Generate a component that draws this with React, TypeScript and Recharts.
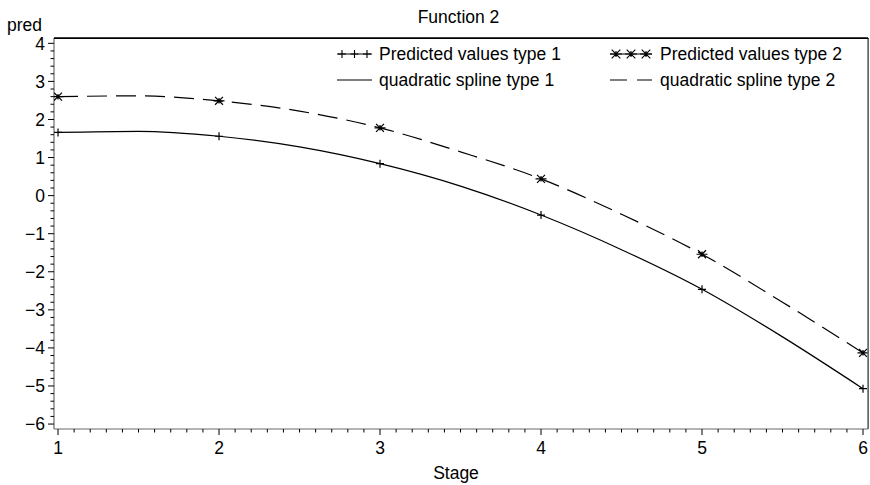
import React from 'react';
import { ComposedChart, Line, Scatter, XAxis, YAxis, Legend, Label } from 'recharts';

// ---- data ----
const stages = [1, 2, 3, 4, 5, 6];
const predType1 = [1.66, 1.56, 0.84, -0.51, -2.46, -5.07];
const predType2 = [2.6, 2.49, 1.78, 0.44, -1.54, -4.13];
const splineStages = [1, 1.5, 2, 2.5, 3, 3.5, 4, 4.5, 5, 5.5, 6];
const splineType1 = [1.66, 1.69, 1.56, 1.28, 0.84, 0.25, -0.51, -1.42, -2.46, -3.71, -5.07];
const splineType2 = [2.6, 2.62, 2.49, 2.22, 1.78, 1.15, 0.44, -0.49, -1.54, -2.8, -4.13];

const xMajorTicks = [1, 2, 3, 4, 5, 6];
const xTickLabels = ['1', '2', '3', '4', '5', '6'];
const yMajorTicks = [-6, -5, -4, -3, -2, -1, 0, 1, 2, 3, 4];
const yTickLabels = ['\u22126', '\u22125', '\u22124', '\u22123', '\u22122', '\u22121', '0', '1', '2', '3', '4'];

const legendLabels = ['Predicted values type 1', 'quadratic spline type 1', 'Predicted values type 2', 'quadratic spline type 2'];
const titleText = 'Function 2';
const xTitle = 'Stage';
const yTitle = 'pred';

const xDomain: [number, number] = [0.975, 6.031];
const yDomain: [number, number] = [-6.13, 4.14];

// ---- derived tables ----
const pts1 = stages.map((x, i) => ({ x, y: predType1[i] }));
const pts2 = stages.map((x, i) => ({ x, y: predType2[i] }));
const spl1 = splineStages.map((x, i) => ({ x, y: splineType1[i] }));
const spl2 = splineStages.map((x, i) => ({ x, y: splineType2[i] }));

const xTicks: number[] = [];
xMajorTicks.forEach((m, i) => {
  if (i < xMajorTicks.length - 1) {
    for (let k = 0; k < 10; k++) xTicks.push(Math.round((m + k / 10) * 100) / 100);
  } else xTicks.push(m);
});
const yTicks: number[] = [];
yMajorTicks.forEach((m, i) => {
  if (i < yMajorTicks.length - 1) {
    for (let k = 0; k < 5; k++) yTicks.push(Math.round((m + k / 5) * 100) / 100);
  } else yTicks.push(m);
});

const FONT = '"Liberation Sans", Arial, Helvetica, sans-serif';
const FS = 17.5;
const AXIS_GRAY = '#6a6a6a';
const CHART_W = 870;
const CHART_H = 485;
const MARGIN = { top: 38, right: 2, bottom: 0, left: 0 };
const X_AXIS_H = 56;
const Y_AXIS_W = 54;

const isMajor = (v: number) => Math.abs(v - Math.round(v)) < 1e-6;

const XTick = (props: any) => {
  const { x, y, payload } = props;
  const v = payload.value as number;
  const major = isMajor(v);
  const idx = xMajorTicks.indexOf(Math.round(v));
  return (
    <g>
      <line x1={x} x2={x} y1={y} y2={y + (major ? 6 : 3.5)} stroke="#000" strokeWidth={1} />
      {major && (
        <text x={x} y={y + 25} textAnchor="middle" fontFamily={FONT} fontSize={FS} fill="#000">
          {xTickLabels[idx]}
        </text>
      )}
    </g>
  );
};

const YTick = (props: any) => {
  const { x, y, payload } = props;
  const v = payload.value as number;
  const major = isMajor(v);
  const idx = yMajorTicks.indexOf(Math.round(v));
  return (
    <g>
      <line x1={x} x2={x - (major ? 6 : 3.5)} y1={y} y2={y} stroke="#000" strokeWidth={1} />
      {major && (
        <text x={x - 9} y={y + 6.3} textAnchor="end" fontFamily={FONT} fontSize={FS} fill="#000">
          {yTickLabels[idx]}
        </text>
      )}
    </g>
  );
};

const plusPath = (cx: number, cy: number, r: number) =>
  `M${cx - r},${cy}L${cx + r},${cy}M${cx},${cy - r}L${cx},${cy + r}`;
const starPath = (cx: number, cy: number, r: number) => {
  const d = r * 0.72;
  return `M${cx - r},${cy}L${cx + r},${cy}M${cx - d},${cy - d}L${cx + d},${cy + d}M${cx - d},${cy + d}L${cx + d},${cy - d}M${cx},${cy - r * 0.5}L${cx},${cy + r * 0.5}`;
};

const PlusShape = (props: any) => {
  const { cx, cy } = props;
  if (cx == null || cy == null) return null;
  return <path d={plusPath(cx, cy, 4)} stroke="#000" strokeWidth={1.2} fill="none" />;
};
const StarShape = (props: any) => {
  const { cx, cy } = props;
  if (cx == null || cy == null) return null;
  return <path d={starPath(cx, cy, 5.5)} stroke="#000" strokeWidth={1.2} fill="none" />;
};

const plotL = MARGIN.left + Y_AXIS_W;
const plotT = MARGIN.top;
const plotR = CHART_W - MARGIN.right;
const plotB = CHART_H - MARGIN.bottom - X_AXIS_H;

const renderLegend = () => {
  const r1 = 54;
  const r2 = 80;
  const c1a = 337, c1b = 372, t1 = 379;
  const c2a = 610, c2b = 652, t2 = 660;
  return (
    <svg width={CHART_W} height={CHART_H} style={{ position: 'absolute', left: 0, top: 0, overflow: 'visible' }}>
      <path d={`M${plotL},${plotT}H${plotR}`} stroke="#000" strokeWidth={1.5} fill="none" />
      <path d={`M${plotR},${plotT}V${plotB}`} stroke={AXIS_GRAY} strokeWidth={1.5} fill="none" />
      <text x={458.5} y={22.5} textAnchor="middle" fontFamily={FONT} fontSize={FS} fill="#000">{titleText}</text>
      <line x1={c1a} x2={c1b} y1={r1} y2={r1} stroke="#000" strokeWidth={1} />
      <path d={plusPath(c1a + 5, r1, 4) + plusPath((c1a + c1b) / 2, r1, 4) + plusPath(c1b - 5, r1, 4)} stroke="#000" strokeWidth={1.1} fill="none" />
      <text x={t1} y={r1 + 6.3} fontFamily={FONT} fontSize={FS} fill="#000">{legendLabels[0]}</text>
      <line x1={c1a} x2={c1b} y1={r2} y2={r2} stroke="#000" strokeWidth={1.2} />
      <text x={t1} y={r2 + 6.3} fontFamily={FONT} fontSize={FS} fill="#000">{legendLabels[1]}</text>

      <line x1={c2a} x2={c2b} y1={r1} y2={r1} stroke="#000" strokeWidth={1} />
      <path d={starPath(c2a + 6, r1, 6) + starPath((c2a + c2b) / 2, r1, 6) + starPath(c2b - 6, r1, 6)} stroke="#000" strokeWidth={1.1} fill="none" />
      <text x={t2} y={r1 + 6.3} fontFamily={FONT} fontSize={FS} fill="#000">{legendLabels[2]}</text>
      <line x1={c2a} x2={c2b} y1={r2} y2={r2} stroke="#000" strokeWidth={1.2} strokeDasharray="17 10" />
      <text x={t2} y={r2 + 6.3} fontFamily={FONT} fontSize={FS} fill="#000">{legendLabels[3]}</text>
    </svg>
  );
};

export default function App() {
  return (
    <div style={{ position: 'absolute', left: 0, top: 0, width: CHART_W, height: CHART_H, background: '#fff' }}>
      <ComposedChart width={CHART_W} height={CHART_H} margin={MARGIN}>
        <XAxis
          dataKey="x"
          type="number"
          domain={xDomain}
          allowDataOverflow
          ticks={xTicks}
          interval={0}
          tick={<XTick />}
          tickLine={false}
          tickSize={0}
          tickMargin={0}
          height={X_AXIS_H}
          axisLine={{ stroke: AXIS_GRAY, strokeWidth: 1.2 }}
        >
          <Label
            content={() => (
              <text x={456} y={479} textAnchor="middle" fontFamily={FONT} fontSize={FS} fill="#000">
                {xTitle}
              </text>
            )}
          />
        </XAxis>
        <YAxis
          type="number"
          domain={yDomain}
          allowDataOverflow
          ticks={yTicks}
          interval={0}
          tick={<YTick />}
          tickLine={false}
          tickSize={0}
          tickMargin={0}
          width={Y_AXIS_W}
          axisLine={{ stroke: AXIS_GRAY, strokeWidth: 1.2 }}
        >
          <Label
            content={() => (
              <text x={7} y={30.5} textAnchor="start" fontFamily={FONT} fontSize={FS} fill="#000">
                {yTitle}
              </text>
            )}
          />
        </YAxis>
        <Legend
          layout="horizontal"
          verticalAlign="middle"
          align="center"
          content={renderLegend}
          wrapperStyle={{ position: 'absolute', left: 0, top: 0, width: CHART_W, height: CHART_H, pointerEvents: 'none' }}
        />
        <Line
          data={spl1}
          dataKey="y"
          type="monotone"
          stroke="#000"
          strokeWidth={1.2}
          dot={false}
          activeDot={false}
          isAnimationActive={false}
          legendType="none"
        />
        <Line
          data={spl2}
          dataKey="y"
          type="monotone"
          stroke="#000"
          strokeWidth={1.2}
          strokeDasharray="20 9"
          dot={false}
          activeDot={false}
          isAnimationActive={false}
          legendType="none"
        />
        <Scatter data={pts1} dataKey="y" shape={<PlusShape />} isAnimationActive={false} legendType="none" />
        <Scatter data={pts2} dataKey="y" shape={<StarShape />} isAnimationActive={false} legendType="none" />
      </ComposedChart>
      <div
        style={{
          position: 'absolute',
          left: plotL,
          top: plotT - 0.5,
          width: plotR - plotL + 0.5,
          height: plotB - plotT,
          borderTop: '1.5px solid #000',
          borderRight: `1.5px solid ${AXIS_GRAY}`,
          boxSizing: 'border-box',
          pointerEvents: 'none',
        }}
      />
    </div>
  );
}
